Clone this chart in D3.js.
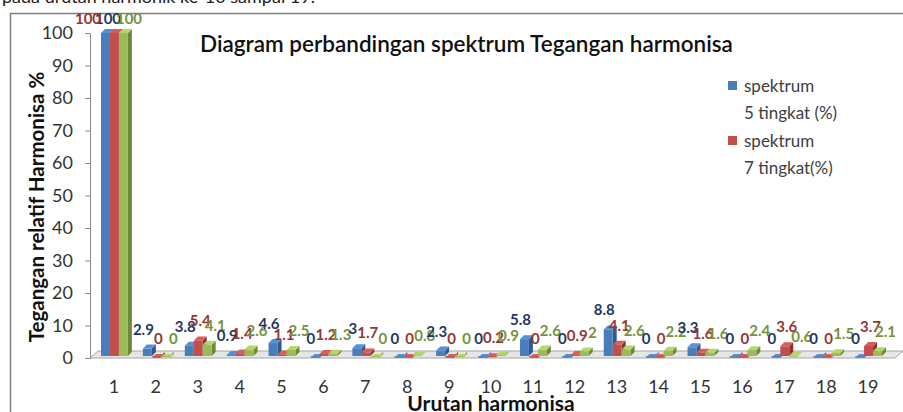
<!DOCTYPE html>
<html>
<head>
<meta charset="utf-8">
<script src="https://cdn.jsdelivr.net/npm/d3@7"></script>
<style>
  body { margin: 0; background: #fff; }
  svg { display: block; font-family: Lato, "Open Sans", sans-serif; }
</style>
</head>
<body>
<div id="viz"></div>
<script>
// data
const harmonics = ["1","2","3","4","5","6","7","8","9","10","11","12","13","14","15","16","17","18","19"];
const spektrum5 = [100, 2.9, 3.8, 0.9, 4.6, 0, 3, 0, 2.3, 0, 5.8, 0, 8.8, 0, 3.3, 0, 0, 0, 0];
const spektrum7 = [100, 0, 5.4, 1.4, 1.1, 1.2, 1.7, 0, 0, 0.2, 0, 0.9, 4.1, 0, 1.6, 0, 3.6, 0, 3.7];
const spektrum9 = [100, 0, 4.1, 2.6, 2.5, 1.3, 0, 0.8, 0, 0.9, 2.6, 2, 2.6, 2.2, 1.6, 2.4, 0.6, 1.5, 2.1];
const yTicks = [0, 10, 20, 30, 40, 50, 60, 70, 80, 90, 100];

const series = [
  {key: "s5", values: spektrum5, fill: "#4a7ebb", side: "#2f5a8e", label: "#1f3864", dx: -4},
  {key: "s7", values: spektrum7, fill: "#c0504d", side: "#8c3230", label: "#953735", dx: 2},
  {key: "s9", values: spektrum9, fill: "#9bbb59", side: "#6e8a38", label: "#76923c", dx: 8}
];

const width = 903, height = 412;
const svg = d3.select("#viz").append("svg")
    .attr("width", width).attr("height", height);

// outer frame and cut caption on top
svg.append("text")
    .attr("x", 2).attr("y", 3)
    .attr("font-size", 18).attr("fill", "#222")
    .text("pada urutan harmonik ke-10 sampai 19.");
svg.append("path")
    .attr("d", "M10.5,412 V13.5 H903")
    .attr("fill", "none").attr("stroke", "#7f7f7f").attr("stroke-width", 1.5);

// scales
const x = d3.scaleBand().domain(harmonics).range([93, 889]);
const xs = d3.scaleBand().domain(series.map(s => s.key)).range([8, x.bandwidth() - 7]);
const y = d3.scaleLinear().domain([0, 100]).range([358, 33]);

const depth = 4;

// floor
svg.append("path")
    .attr("d", `M90,358 L895,358 L903,351 L98,351 Z`)
    .attr("fill", "#e6e6e6").attr("stroke", "#a6a6a6").attr("stroke-width", 1);

// y axis
const yAxis = svg.append("g")
    .attr("transform", "translate(90,0)")
    .call(d3.axisLeft(y).tickValues(yTicks).tickSize(5).tickPadding(12));
yAxis.select(".domain").attr("stroke", "#8c8c8c");
yAxis.selectAll(".tick line").attr("stroke", "#8c8c8c");
yAxis.selectAll("text").attr("font-size", 18).attr("fill", "#333")
    .attr("font-family", "Lato, sans-serif");

// x axis labels
const xAxis = svg.append("g")
    .attr("transform", "translate(0,376)")
    .call(d3.axisBottom(x).tickSize(0).tickPadding(4));
xAxis.select(".domain").remove();
xAxis.selectAll("text").attr("font-size", 18).attr("fill", "#333")
    .attr("font-family", "Lato, sans-serif");

// bars
const groups = svg.selectAll(".harm")
    .data(harmonics)
    .enter().append("g")
    .attr("class", "harm")
    .attr("transform", d => `translate(${x(d)},0)`);

series.forEach(s => {
  const w = xs.bandwidth();
  groups.each(function(d, i) {
    const v = s.values[i];
    const g = d3.select(this);
    const x0 = xs(s.key), yTop = y(v), yBase = y(0) - 2;
    // side face
    g.append("path")
      .attr("d", `M${x0 + w},${yBase} L${x0 + w + depth},${yBase - depth} L${x0 + w + depth},${yTop - depth} L${x0 + w},${yTop} Z`)
      .attr("fill", s.side);
    // top face
    g.append("path")
      .attr("d", `M${x0},${yTop} L${x0 + depth},${yTop - depth} L${x0 + w + depth},${yTop - depth} L${x0 + w},${yTop} Z`)
      .attr("fill", d3.color(s.fill).brighter(0.4));
    g.append("rect")
      .attr("x", x0).attr("y", Math.min(yTop, yBase))
      .attr("width", w).attr("height", Math.max(0.8, yBase - yTop))
      .attr("fill", s.fill);
  });
});

// value labels
series.forEach(s => {
  groups.append("text")
    .attr("class", "vlabel")
    .attr("x", (d, i) => xs(s.key) + xs.bandwidth() / 2 + s.dx)
    .attr("y", (d, i) => i === 0 ? 24 : y(s.values[i]) - 14)
    .attr("text-anchor", "middle")
    .attr("font-size", 15).attr("font-weight", "bold")
    .attr("fill", s.label)
    .text((d, i) => s.values[i]);
});
// first category labels are spread: red, blue, green
groups.filter((d, i) => i === 0).selectAll(".vlabel")
    .attr("x", (d, j) => [15, -5, 36][j]);

// title
svg.append("text")
    .attr("x", 200).attr("y", 52)
    .attr("font-size", 22.5).attr("font-weight", 600).attr("fill", "#111")
    .text("Diagram perbandingan spektrum Tegangan harmonisa");

// legend
const legend = svg.append("g").attr("transform", "translate(728,0)");
const legendItems = [
  {color: series[0].fill, lines: ["spektrum", "5 tingkat (%)"], y: 86},
  {color: series[1].fill, lines: ["spektrum", "7 tingkat(%)"], y: 141}
];
legendItems.forEach(item => {
  legend.append("rect")
    .attr("x", 0).attr("y", item.y - 5).attr("width", 9).attr("height", 9)
    .attr("fill", item.color);
  item.lines.forEach((t, k) => {
    legend.append("text")
      .attr("x", 16).attr("y", item.y + 6 + k * 27)
      .attr("font-size", 17).attr("fill", "#404040")
      .text(t);
  });
});

// axis titles
svg.append("text")
    .attr("transform", "translate(44,207) rotate(-90)")
    .attr("text-anchor", "middle")
    .attr("font-size", 20.5).attr("font-weight", "bold").attr("fill", "#111")
    .text("Tegangan relatif Harmonisa %");

svg.append("text")
    .attr("x", 491).attr("y", 411)
    .attr("text-anchor", "middle")
    .attr("font-size", 21).attr("font-weight", "bold").attr("fill", "#111")
    .text("Urutan harmonisa");
</script>
</body>
</html>
